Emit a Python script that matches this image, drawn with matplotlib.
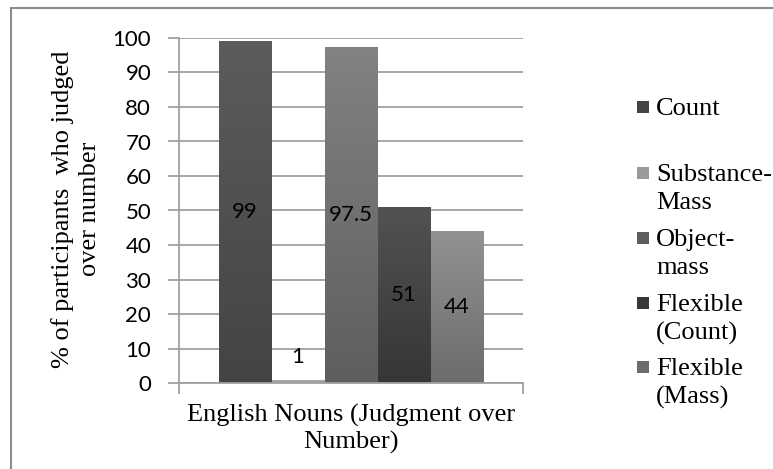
import numpy as np
import matplotlib.pyplot as plt
from matplotlib.colors import LinearSegmentedColormap
from matplotlib.patches import Rectangle

plt.rcParams['font.serif'] = ['Liberation Serif', 'Times New Roman', 'DejaVu Serif']

# Data
category = "English Nouns (Judgment over\nNumber)"
series = ["Count", "Substance-\nMass", "Object-\nmass", "Flexible\n(Count)", "Flexible\n(Mass)"]
values = [99, 1, 97.5, 51, 44]
value_labels = ["99", "1", "97.5", "51", "44"]

# top colour -> bottom colour for each series (Excel style gradient)
top_colors = ["#5c5c5c", "#b0b0b0", "#828282", "#525252", "#929292"]
bottom_colors = ["#444444", "#9a9a9a", "#5e5e5e", "#363636", "#6c6c6c"]

W, H = 773, 469
fig = plt.figure(figsize=(W / 100, H / 100), dpi=100)

# outer chart border (only left and top visible)
fig.patches.append(Rectangle((11 / W, -0.1), 1.2, 1.1 - 8 / H, transform=fig.transFigure,
                             fill=False, edgecolor="#8c8c8c", linewidth=1.5))

ax = fig.add_axes([179 / W, 1 - 383 / H, 344 / W, 345 / H])

n = len(values)
bw = 53 / 344
x = (np.arange(n) - (n - 1) / 2) * bw
bars = ax.bar(x, values, width=bw, color=bottom_colors, zorder=2)

# gradient fill clipped to each bar
grad = np.linspace(0, 1, 256).reshape(-1, 1)
for b, tc, bc in zip(bars, top_colors, bottom_colors):
    cmap = LinearSegmentedColormap.from_list("g", [bc, tc])
    x0, w, h = b.get_x(), b.get_width(), b.get_height()
    im = ax.imshow(grad, extent=(x0, x0 + w, 0, h), origin="lower", aspect="auto",
                   cmap=cmap, zorder=2.5)
    im.set_clip_path(b)

ax.set_xlim(-0.5, 0.5)
ax.set_ylim(0, 100)

# data labels
for b, v, lab in zip(bars, values, value_labels):
    cx = b.get_x() + b.get_width() / 2
    if v > 10:
        ax.text(cx, v / 2, lab, ha="center", va="center", fontsize=16,
                family="Lato", color="black", zorder=4)
    else:
        ax.annotate(lab, (cx, v), xytext=(0, 16), textcoords="offset points",
                    ha="center", va="center", fontsize=16, family="Lato", zorder=4)

# axes styling
grid_c = "#a0a0a0"
ax.set_yticks(np.arange(0, 101, 10))
ax.yaxis.grid(True, color=grid_c, linewidth=1.3, zorder=0)
ax.set_axisbelow(True)
for s in ["top", "right"]:
    ax.spines[s].set_visible(False)
for s in ["left", "bottom"]:
    ax.spines[s].set_color(grid_c)
    ax.spines[s].set_linewidth(1.3)
ax.tick_params(axis="y", length=8, width=1.3, color=grid_c, pad=12, labelsize=16)
for t in ax.get_yticklabels():
    t.set_family("Lato")

ax.set_xticks([-0.5, 0.5])
ax.set_xticklabels(["", ""])
ax.tick_params(axis="x", which="major", length=8, width=1.3, color=grid_c)
ax.set_xticks([0], labels=[category], minor=True)
ax.tick_params(axis="x", which="minor", length=0, pad=15)
for t in ax.get_xticklabels(minor=True):
    t.set_family("serif")
    t.set_fontsize(19)
    t.set_linespacing(1.25)

fig.text(76 / W, 1 - 209 / H, "% of participants  who judged\nover number", rotation=90,
         ha="center", va="center", family="serif", fontsize=19, linespacing=1.25)

# legend
first_line = [107, 173, 238, 303, 367]
for name, tc, bc, yc in zip(series, top_colors, bottom_colors, first_line):
    fig.patches.append(Rectangle((637 / W, 1 - (yc + 6) / H), 12 / W, 12 / H,
                                 transform=fig.transFigure, facecolor=bc, edgecolor="none"))
    fig.text(656 / W, 1 - (yc - 9) / H, name, ha="left", va="top",
             family="serif", fontsize=19, linespacing=1.33)

fig.savefig("out.png", dpi=100)
